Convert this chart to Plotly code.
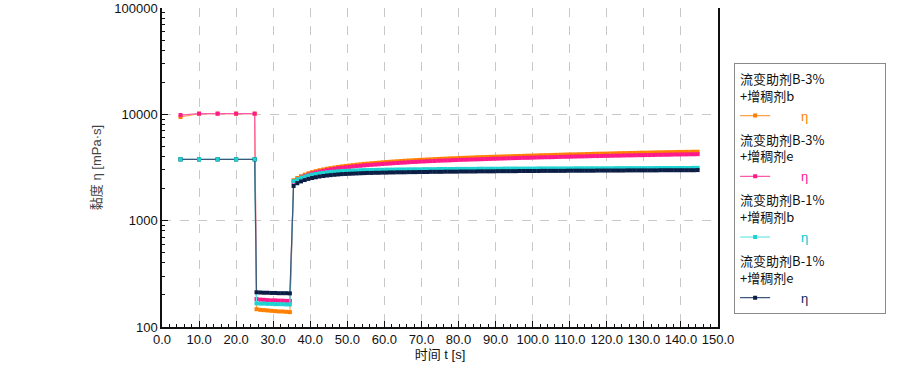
import plotly.graph_objects as go

# ---- data ----
t_phase1 = [5, 10, 15, 20, 25]
t_phase2 = [25.5, 26.5, 27.5, 28.5, 29.5, 30.5, 31.5, 32.5, 33.5, 34.5]
t_phase3 = [35.5 + i for i in range(110)]

group_titles = ["流变助剂B-3%<br>+增稠剂b", "流变助剂B-3%<br>+增稠剂e",
                "流变助剂B-1%<br>+增稠剂b", "流变助剂B-1%<br>+增稠剂e"]

orange_p1 = [9440, 10150, 10150, 10150, 10150]
pink_p1 = [9850, 10150, 10150, 10150, 10150]
cyan_p1 = [3780, 3780, 3780, 3780, 3780]
navy_p1 = [3770, 3770, 3770, 3770, 3770]

orange_p2 = [147, 145, 144, 143, 142, 141, 140, 140, 139, 138]
pink_p2 = [183, 181, 180, 179, 178, 178, 177, 177, 176, 176]
cyan_p2 = [167, 166, 166, 165, 165, 164, 164, 164, 163, 163]
navy_p2 = [212, 211, 210, 210, 209, 209, 208, 208, 208, 207]

orange_p3 = [
    2400, 2520, 2620, 2710, 2790, 2860, 2920, 2980, 3030, 3080,
    3120, 3160, 3200, 3240, 3270, 3300, 3330, 3360, 3390, 3420,
    3440, 3470, 3490, 3510, 3540, 3560, 3580, 3600, 3620, 3640,
    3660, 3680, 3690, 3710, 3730, 3740, 3760, 3770, 3790, 3800,
    3820, 3830, 3850, 3860, 3870, 3890, 3900, 3910, 3920, 3940,
    3950, 3960, 3970, 3980, 3990, 4000, 4010, 4020, 4030, 4040,
    4050, 4060, 4070, 4080, 4090, 4100, 4110, 4120, 4130, 4140,
    4150, 4160, 4170, 4180, 4190, 4200, 4200, 4210, 4220, 4230,
    4240, 4250, 4260, 4270, 4270, 4280, 4290, 4300, 4310, 4320,
    4320, 4330, 4340, 4350, 4360, 4360, 4370, 4380, 4390, 4390,
    4400, 4410, 4410, 4420, 4430, 4430, 4440, 4440, 4450, 4450]
pink_p3 = [
    2300, 2430, 2540, 2630, 2710, 2780, 2840, 2890, 2940, 2990,
    3030, 3070, 3110, 3140, 3170, 3200, 3230, 3260, 3280, 3310,
    3330, 3350, 3370, 3390, 3410, 3430, 3450, 3470, 3490, 3510,
    3520, 3540, 3560, 3570, 3590, 3600, 3620, 3630, 3640, 3660,
    3670, 3680, 3690, 3710, 3720, 3730, 3740, 3750, 3760, 3770,
    3780, 3790, 3800, 3810, 3820, 3830, 3840, 3850, 3860, 3870,
    3880, 3890, 3900, 3900, 3910, 3920, 3930, 3940, 3950, 3950,
    3960, 3970, 3980, 3990, 3990, 4000, 4010, 4020, 4020, 4030,
    4040, 4050, 4050, 4060, 4070, 4070, 4080, 4090, 4090, 4100,
    4110, 4110, 4120, 4130, 4130, 4140, 4140, 4150, 4160, 4160,
    4170, 4170, 4180, 4190, 4190, 4200, 4200, 4210, 4210, 4220]
cyan_p3 = [
    2350, 2450, 2530, 2600, 2660, 2710, 2750, 2790, 2820, 2850,
    2870, 2890, 2910, 2930, 2940, 2950, 2960, 2970, 2980, 2990,
    2990, 3000, 3000, 3010, 3010, 3020, 3020, 3020, 3030, 3030,
    3030, 3040, 3040, 3040, 3040, 3050, 3050, 3050, 3050, 3060,
    3060, 3060, 3060, 3060, 3070, 3070, 3070, 3070, 3070, 3070,
    3080, 3080, 3080, 3080, 3080, 3080, 3080, 3090, 3090, 3090,
    3090, 3090, 3090, 3090, 3090, 3090, 3100, 3100, 3100, 3100,
    3100, 3100, 3100, 3100, 3100, 3100, 3110, 3110, 3110, 3110,
    3110, 3110, 3110, 3110, 3110, 3110, 3110, 3120, 3120, 3120,
    3120, 3120, 3120, 3120, 3120, 3120, 3120, 3120, 3130, 3130,
    3130, 3130, 3130, 3130, 3130, 3130, 3130, 3130, 3140, 3140]
navy_p3 = [
    2120, 2250, 2340, 2410, 2470, 2520, 2560, 2600, 2630, 2660,
    2680, 2700, 2720, 2740, 2750, 2760, 2770, 2780, 2790, 2800,
    2810, 2810, 2820, 2820, 2830, 2830, 2840, 2840, 2850, 2850,
    2850, 2860, 2860, 2860, 2870, 2870, 2870, 2880, 2880, 2880,
    2880, 2890, 2890, 2890, 2890, 2900, 2900, 2900, 2900, 2900,
    2910, 2910, 2910, 2910, 2910, 2920, 2920, 2920, 2920, 2920,
    2920, 2930, 2930, 2930, 2930, 2930, 2930, 2940, 2940, 2940,
    2940, 2940, 2940, 2940, 2950, 2950, 2950, 2950, 2950, 2950,
    2950, 2950, 2960, 2960, 2960, 2960, 2960, 2960, 2960, 2960,
    2970, 2970, 2970, 2970, 2970, 2970, 2970, 2970, 2970, 2980,
    2980, 2980, 2980, 2980, 2980, 2980, 2980, 2980, 2980, 2990]

x_ticks = [0, 10, 20, 30, 40, 50, 60, 70, 80, 90, 100, 110, 120, 130, 140, 150]
y_ticks = [100, 1000, 10000, 100000]
y_labels = ["100", "1000", "10000", "100000"]

series = [
    (orange_p1 + orange_p2 + orange_p3, "#ffa04a", "#ff7f00", "#ff8000"),
    (pink_p1 + pink_p2 + pink_p3, "#ff5aa8", "#ff1a8c", "#ff1493"),
    (cyan_p1 + cyan_p2 + cyan_p3, "#55e4e4", "#1ed2d2", "#00c8d0"),
    (navy_p1 + navy_p2 + navy_p3, "#3d5878", "#0c1e45", "#0c2a5a"),
]
times = t_phase1 + t_phase2 + t_phase3

CJK = "Noto Sans CJK SC"
MIX = "Liberation Sans, Noto Sans CJK SC"
fig = go.Figure()
for i, (vals, lc, mc, tc) in enumerate(series):
    fig.add_trace(go.Scatter(
        x=times, y=vals, mode="lines+markers",
        line=dict(color=lc, width=1.2),
        marker=dict(color=mc, size=4, symbol="square"),
        name=f'<span style="color:{tc}">\u2003\u2003η\u2003\u2003\u2003\u2003\u2003\u2002</span>',
        legendgroup=f"g{i}",
        legendgrouptitle=dict(text=group_titles[i],
                              font=dict(size=13, color="#111", family=CJK)),
    ))

# cyan markers of the first plateau sit on top of the overlapping dark line
fig.add_trace(go.Scatter(
    x=t_phase1, y=cyan_p1, mode="markers", showlegend=False, hoverinfo="skip",
    marker=dict(color="#1ed2d2", size=4, symbol="square"),
))

fig.update_layout(
    width=908, height=366,
    margin=dict(l=162, r=190, t=8, b=39),
    paper_bgcolor="white", plot_bgcolor="white",
    font=dict(family="Liberation Sans, Arial", size=13, color="#111"),
    showlegend=True,
    legend=dict(x=1.029, y=0.828, xanchor="left", yanchor="top",
                bordercolor="#8a8a8a", borderwidth=1, bgcolor="white",
                tracegroupgap=4, itemwidth=30,
                font=dict(size=13, family=MIX)),
    xaxis=dict(range=[0, 150], tickvals=x_ticks, tickformat=".1f",
               automargin=False,
               showline=True, linecolor="#111", linewidth=1.5,
               ticks="inside", ticklen=6, tickcolor="#111",
               minor=dict(ticks="inside", ticklen=3, dtick=2, tickcolor="#111"),
               showgrid=True, gridcolor="#c8c8c8", griddash="dash", gridwidth=1,
               zeroline=False, mirror=False,
               title=dict(text="时间 t [s]", font=dict(family=MIX, size=13), standoff=2)),
    yaxis=dict(type="log", range=[2, 5], tickvals=y_ticks, ticktext=y_labels,
               automargin=False,
               showline=True, linecolor="#111", linewidth=1.5, mirror=True,
               ticks="inside", ticklen=6, tickcolor="#111",
               minor=dict(ticks="inside", ticklen=3, dtick="D1", tickcolor="#111"),
               showgrid=True, gridcolor="#c8c8c8", griddash="dash", gridwidth=1,
               zeroline=False,
               title=dict(text="黏度 η [mPa·s]", font=dict(family=MIX, size=13, color="#444"),
                          standoff=10)),
)

fig.write_html("out.html", config={"displayModeBar": False},
               post_script="document.body.style.margin='0';")
